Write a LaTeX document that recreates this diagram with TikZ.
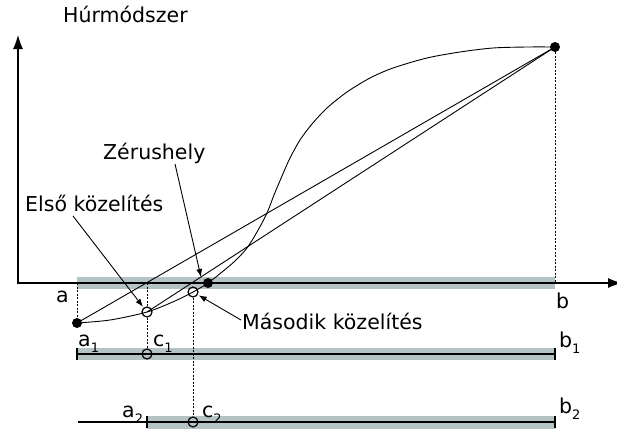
\documentclass[tikz,border=0pt]{standalone}
\usepackage{fontspec}
\setmainfont{DejaVu Sans}
\usetikzlibrary{arrows.meta}
\definecolor{bandgray}{RGB}{182,195,197}
\newcommand{\subidx}[1]{\raisebox{-6pt}{\fontsize{13}{14}\selectfont #1}}
\begin{document}
\begin{tikzpicture}[x=1pt,y=-1pt,
  lbl/.style={font=\fontsize{20.5}{24}\selectfont, inner sep=0pt, anchor=base west},
  thinline/.style={line width=0.9pt},
  axisline/.style={line width=1.1pt, {Latex[length=14pt,width=10pt]}-{Latex[length=14pt,width=10pt]}},
  dashline/.style={line width=0.8pt, dash pattern=on 2pt off 1.5pt},
  ptr/.style={line width=0.9pt, -{Latex[length=8pt,width=6pt]}},
  fulldot/.style={circle, fill=black, minimum size=10pt, inner sep=0pt},
  opendot/.style={circle, draw, line width=1.2pt, minimum size=10pt, inner sep=0pt},
  bandline/.style={line width=1.1pt}
]
\useasboundingbox (0,0) rectangle (617,428);
\clip (0,0) rectangle (617,428);

% bands
\fill[bandgray] (77,277) rectangle (555,289);
\fill[bandgray] (77,348) rectangle (555,360);
\fill[bandgray] (147,416) rectangle (555,432);

% coordinates
\coordinate (O) at (18,283);
\coordinate (ytip) at (18,35);
\coordinate (xtip) at (622,283);
\coordinate (ax) at (77,283);
\coordinate (bx) at (555,283);
\coordinate (c1x) at (147,283);
\coordinate (a1l) at (77,354);
\coordinate (b1r) at (555,354);
\coordinate (a2l) at (78,422);
\coordinate (a2t) at (147,422);
\coordinate (b2r) at (555,422);

% axes
\draw[axisline] (ytip) -- (O) -- (xtip);

% band lines and ticks
\draw[bandline] (a1l) -- (b1r);
\draw[bandline] ([yshift=-6pt]a1l) -- ([yshift=6pt]a1l);
\draw[bandline] ([yshift=-6pt]b1r) -- ([yshift=6pt]b1r);
\draw[bandline] (a2l) -- (b2r);
\draw[bandline] ([yshift=-6pt]a2t) -- ([yshift=6pt]a2t);
\draw[bandline] ([yshift=-6pt]b2r) -- ([yshift=6pt]b2r);

% points
\node[fulldot] (A) at (77,323) {};
\node[fulldot] (B) at (555,47) {};
\node[fulldot] (R) at (208,283) {};
\node[opendot] (c1f) at (147,312) {};
\node[opendot] (c2f) at (193,292) {};
\node[opendot] (c1b) at (147,354) {};
\node[opendot] (c2b) at (193,422) {};

% curve
\draw[thinline] plot[smooth, tension=0.5] coordinates {
 (77,323) (110,320) (147,312) (175,301) (193,292) (208,283) (222,272)
 (235,261) (247,248) (257,232) (267,213) (274,195) (282,176) (290,158)
 (300,140) (312,124) (327,108) (347,92) (370,78) (393,68) (427,58)
 (460,52) (493,48) (527,47) (555,47)};

% chords
\draw[thinline] (A.center) -- (B.center);
\draw[thinline] (c1f.center) -- (B.center);

% dashed projections
\draw[dashline] (B) -- (bx);
\draw[dashline] (ax) -- (A);
\draw[dashline] (c1x) -- (c1f);
\draw[dashline] (c1f) -- (c1b);
\draw[dashline] (c2f) -- (c2b);

% labels
\node[lbl] (title) at (63,23) {Húrmódszer};
\node[lbl] (zer) at (103,159) {Zérushely};
\node[lbl] (elso) at (25,211) {Első közelítés};
\node[lbl] (mas) at (242,329) {Második közelítés};
\node[lbl] (la) at (56,302) {a};
\node[lbl] (lb) at (556,308) {b};
\node[lbl] (la1) at (78,346) {a\subidx{1}};
\node[lbl] (lc1) at (153,346) {c\subidx{1}};
\node[lbl] (lb1) at (559,347) {b\subidx{1}};
\node[lbl] (la2) at (122,417) {a\subidx{2}};
\node[lbl] (lc2) at (202,417) {c\subidx{2}};
\node[lbl] (lb2) at (559,413) {b\subidx{2}};

% pointer arrows
\coordinate (elsoarr) at (73,216);
\coordinate (zerarr) at (175,164);
\coordinate (zertip) at (201,277);
\coordinate (masarr) at (241,320);
\draw[ptr, shorten >=1pt] (elsoarr) -- (c1f);
\draw[ptr] (zerarr) -- (zertip);
\draw[ptr, shorten >=1pt] (masarr) -- (c2f);
\end{tikzpicture}
\end{document}
